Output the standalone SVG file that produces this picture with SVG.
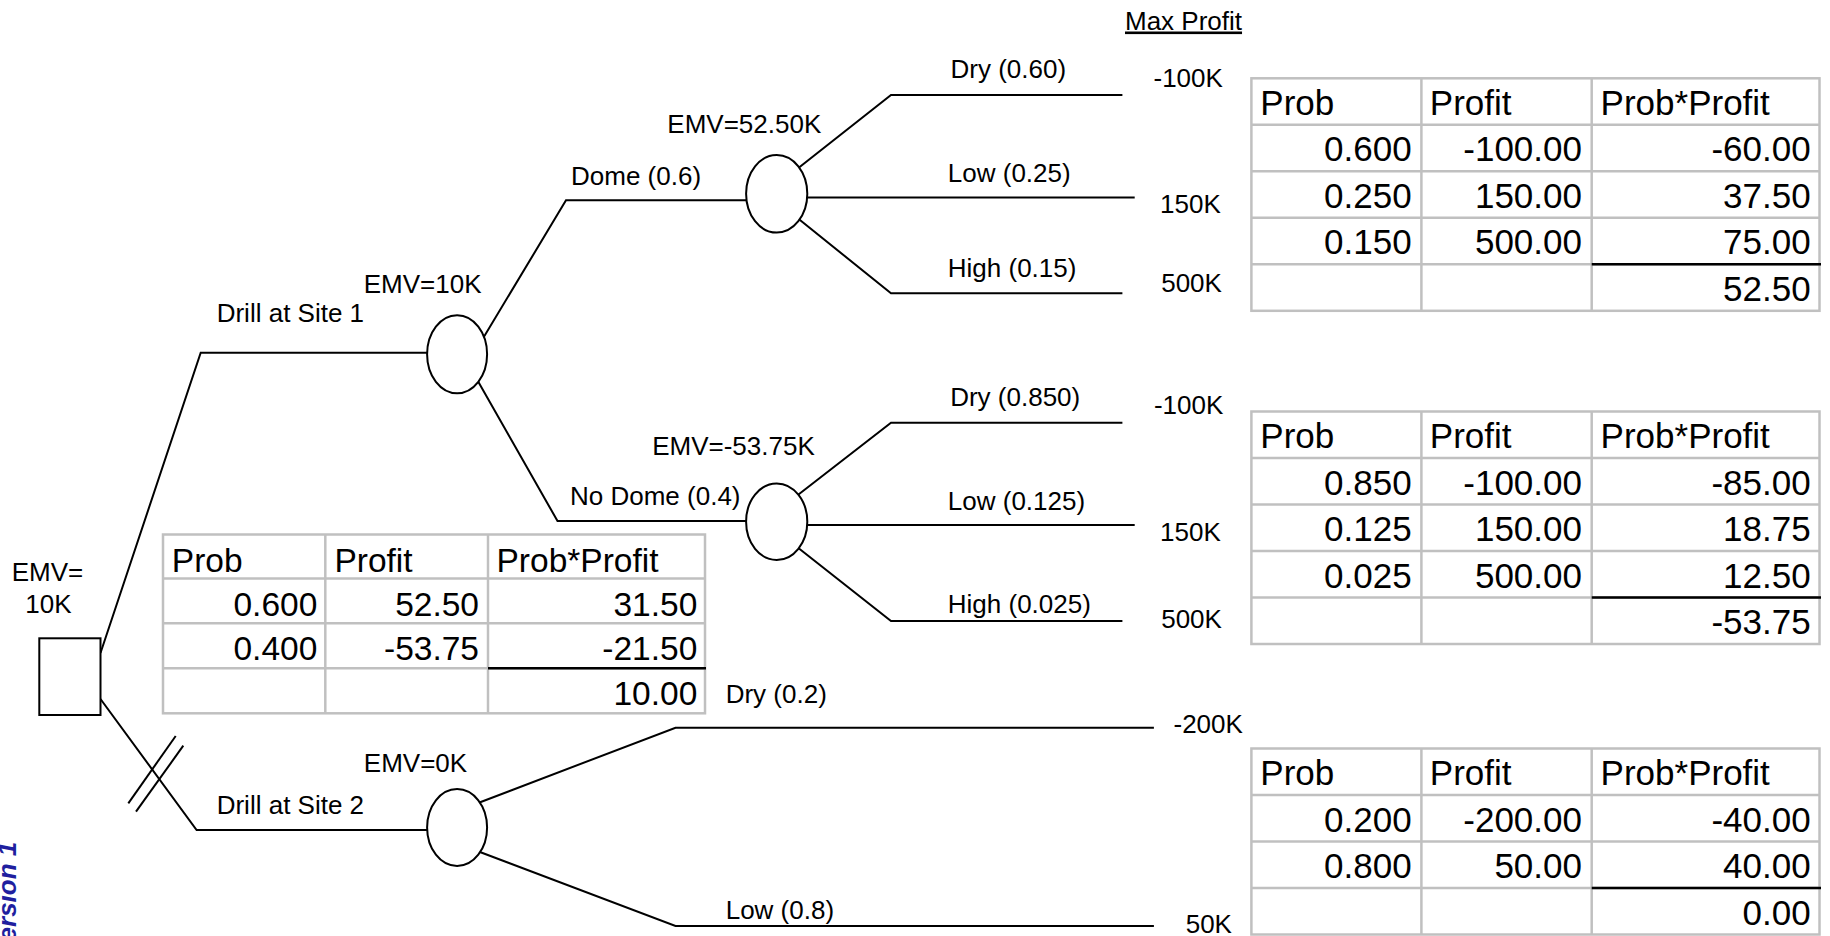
<svg xmlns="http://www.w3.org/2000/svg" width="1830" height="936" viewBox="0 0 1830 936">
  <style>
    .lbl { font-family: "Liberation Sans", Arial, sans-serif; font-size: 26px; fill: #000; }
    .tb { font-family: "Liberation Sans", Arial, sans-serif; font-size: 35px; fill: #000; }
    .tbs { font-family: "Liberation Sans", Arial, sans-serif; font-size: 33.5px; fill: #000; }
    .r { text-anchor: end; }
    .wire { fill: none; stroke: #000; stroke-width: 2; }
    .node { fill: #fff; stroke: #000; stroke-width: 2; }
    .grid { fill: #fff; stroke: #c0c0c0; stroke-width: 2.5; }
    .gline { stroke: #c0c0c0; stroke-width: 2.5; }
    .sum { stroke: #000; stroke-width: 2.5; }
    .ver { font-family: "Liberation Sans", Arial, sans-serif; font-size: 26px; font-weight: bold; font-style: italic; fill: #1f1f9f; }
  </style>
  <rect width="1830" height="936" fill="#fff"/>

  <!-- branches of the decision tree -->
  <g id="connectors">
    <path class="wire" d="M100.5,653 L200.7,352.7 L440,352.7"/>
    <path class="wire" d="M100.5,699 L196.6,830 L440,830"/>
    <path class="wire" d="M128.3,803.3 L175.7,736"/>
    <path class="wire" d="M136,811.7 L183.3,745.7"/>
    <path class="wire" d="M482,340 L566,200.3 L760,200.3"/>
    <path class="wire" d="M475,376 L557.5,521 L760,521"/>
    <path class="wire" d="M789.5,175 L891,95 L1122.4,95"/>
    <path class="wire" d="M790,197.5 L1134.7,197.5"/>
    <path class="wire" d="M790,212 L891,293.3 L1122.4,293.3"/>
    <path class="wire" d="M791.4,500 L891,422.7 L1122.4,422.7"/>
    <path class="wire" d="M790,525 L1134.7,525"/>
    <path class="wire" d="M792,543 L891,621 L1122.4,621"/>
    <path class="wire" d="M465,808 L675.5,727.7 L1153.9,727.7"/>
    <path class="wire" d="M464,846 L675.5,926 L1153.9,926"/>
  </g>

  <!-- decision node -->
  <g id="decision">
    <rect class="node" x="39.3" y="638.3" width="61.2" height="76.7"/>
    <text class="lbl" x="47.4" y="580.7" text-anchor="middle">EMV=</text>
    <text class="lbl" x="48.4" y="612.7" text-anchor="middle">10K</text>
  </g>

  <!-- chance nodes -->
  <g id="chance-site1">
    <ellipse class="node" cx="457.1" cy="354.3" rx="30" ry="39"/>
    <text class="lbl" x="363.7" y="293.3">EMV=10K</text>
  </g>
  <g id="chance-dome">
    <ellipse class="node" cx="776.7" cy="193.8" rx="30.6" ry="38.8"/>
    <text class="lbl" x="667.3" y="133.3">EMV=52.50K</text>
  </g>
  <g id="chance-nodome">
    <ellipse class="node" cx="776.7" cy="521.7" rx="30.6" ry="38.3"/>
    <text class="lbl" x="652.2" y="455">EMV=-53.75K</text>
  </g>
  <g id="chance-site2">
    <ellipse class="node" cx="457.1" cy="827.5" rx="30" ry="38.5"/>
    <text class="lbl" x="363.8" y="772.3">EMV=0K</text>
  </g>

  <!-- branch labels -->
  <g id="branch-labels">
    <text class="lbl" x="216.7" y="321.7">Drill at Site 1</text>
    <text class="lbl" x="216.7" y="814">Drill at Site 2</text>
    <text class="lbl" x="571" y="185">Dome (0.6)</text>
    <text class="lbl" x="570" y="505">No Dome (0.4)</text>
    <text class="lbl" x="950.5" y="78">Dry (0.60)</text>
    <text class="lbl" x="947.8" y="181.7">Low (0.25)</text>
    <text class="lbl" x="947.8" y="276.7">High (0.15)</text>
    <text class="lbl" x="950.2" y="406">Dry (0.850)</text>
    <text class="lbl" x="947.8" y="510">Low (0.125)</text>
    <text class="lbl" x="947.8" y="613.3">High (0.025)</text>
    <text class="lbl" x="725.7" y="703.3">Dry (0.2)</text>
    <text class="lbl" x="725.7" y="919.3">Low (0.8)</text>
  </g>

  <!-- payoffs -->
  <g id="payoffs">
    <text class="lbl" x="1125" y="29.5" text-decoration="underline">Max Profit</text>
    <text class="lbl" x="1153.5" y="86.5">-100K</text>
    <text class="lbl" x="1160" y="213.3">150K</text>
    <text class="lbl" x="1161.2" y="291.7">500K</text>
    <text class="lbl" x="1153.9" y="414.3">-100K</text>
    <text class="lbl" x="1160" y="541">150K</text>
    <text class="lbl" x="1161.2" y="627.7">500K</text>
    <text class="lbl" x="1173.5" y="733.3">-200K</text>
    <text class="lbl" x="1185.7" y="932.5">50K</text>
  </g>

  <!-- EMV table for the site decision -->
  <g id="table-site">
    <rect class="grid" x="163" y="534.5" width="542" height="178.8"/>
    <line class="gline" x1="325.3" y1="534.5" x2="325.3" y2="713.3"/>
    <line class="gline" x1="488" y1="534.5" x2="488" y2="713.3"/>
    <line class="gline" x1="163" y1="578.5" x2="705" y2="578.5"/>
    <line class="gline" x1="163" y1="623.3" x2="705" y2="623.3"/>
    <line class="gline" x1="163" y1="668.3" x2="705" y2="668.3"/>
    <line class="sum" x1="488" y1="668.3" x2="706" y2="668.3"/>
    <text class="tbs" x="171.8" y="571.7">Prob</text>
    <text class="tbs" x="334.4" y="571.7">Profit</text>
    <text class="tbs" x="496.5" y="571.7">Prob*Profit</text>
    <text class="tbs r" x="317.3" y="615.7">0.600</text>
    <text class="tbs r" x="479" y="615.7">52.50</text>
    <text class="tbs r" x="697.3" y="615.7">31.50</text>
    <text class="tbs r" x="317.3" y="660">0.400</text>
    <text class="tbs r" x="479" y="660">-53.75</text>
    <text class="tbs r" x="697.3" y="660">-21.50</text>
    <text class="tbs r" x="697.3" y="705">10.00</text>
  </g>

  <!-- EMV table for the dome outcome -->
  <g id="table-dome">
    <rect class="grid" x="1251.4" y="78.3" width="568.1" height="232.5"/>
    <line class="gline" x1="1421.4" y1="78.3" x2="1421.4" y2="310.8"/>
    <line class="gline" x1="1591.7" y1="78.3" x2="1591.7" y2="310.8"/>
    <line class="gline" x1="1251.4" y1="124.8" x2="1819.5" y2="124.8"/>
    <line class="gline" x1="1251.4" y1="171.3" x2="1819.5" y2="171.3"/>
    <line class="gline" x1="1251.4" y1="217.8" x2="1819.5" y2="217.8"/>
    <line class="gline" x1="1251.4" y1="264.3" x2="1819.5" y2="264.3"/>
    <line class="sum" x1="1591.7" y1="264.3" x2="1821" y2="264.3"/>
    <text class="tb" x="1260.3" y="114.5">Prob</text>
    <text class="tb" x="1429.8" y="114.5">Profit</text>
    <text class="tb" x="1600.6" y="114.5">Prob*Profit</text>
    <text class="tb r" x="1411.7" y="161.3">0.600</text>
    <text class="tb r" x="1582" y="161.3">-100.00</text>
    <text class="tb r" x="1810.7" y="161.3">-60.00</text>
    <text class="tb r" x="1411.7" y="207.8">0.250</text>
    <text class="tb r" x="1582" y="207.8">150.00</text>
    <text class="tb r" x="1810.7" y="207.8">37.50</text>
    <text class="tb r" x="1411.7" y="254.3">0.150</text>
    <text class="tb r" x="1582" y="254.3">500.00</text>
    <text class="tb r" x="1810.7" y="254.3">75.00</text>
    <text class="tb r" x="1810.7" y="300.8">52.50</text>
  </g>

  <!-- EMV table for the no-dome outcome -->
  <g id="table-nodome">
    <rect class="grid" x="1251.4" y="411.5" width="568.1" height="232.5"/>
    <line class="gline" x1="1421.4" y1="411.5" x2="1421.4" y2="644"/>
    <line class="gline" x1="1591.7" y1="411.5" x2="1591.7" y2="644"/>
    <line class="gline" x1="1251.4" y1="458" x2="1819.5" y2="458"/>
    <line class="gline" x1="1251.4" y1="504.5" x2="1819.5" y2="504.5"/>
    <line class="gline" x1="1251.4" y1="551" x2="1819.5" y2="551"/>
    <line class="gline" x1="1251.4" y1="597.5" x2="1819.5" y2="597.5"/>
    <line class="sum" x1="1591.7" y1="597.5" x2="1821" y2="597.5"/>
    <text class="tb" x="1260.3" y="447.7">Prob</text>
    <text class="tb" x="1429.8" y="447.7">Profit</text>
    <text class="tb" x="1600.6" y="447.7">Prob*Profit</text>
    <text class="tb r" x="1411.7" y="494.5">0.850</text>
    <text class="tb r" x="1582" y="494.5">-100.00</text>
    <text class="tb r" x="1810.7" y="494.5">-85.00</text>
    <text class="tb r" x="1411.7" y="541">0.125</text>
    <text class="tb r" x="1582" y="541">150.00</text>
    <text class="tb r" x="1810.7" y="541">18.75</text>
    <text class="tb r" x="1411.7" y="587.5">0.025</text>
    <text class="tb r" x="1582" y="587.5">500.00</text>
    <text class="tb r" x="1810.7" y="587.5">12.50</text>
    <text class="tb r" x="1810.7" y="634">-53.75</text>
  </g>

  <!-- EMV table for site 2 -->
  <g id="table-site2">
    <rect class="grid" x="1251.4" y="748.5" width="568.1" height="186"/>
    <line class="gline" x1="1421.4" y1="748.5" x2="1421.4" y2="934.5"/>
    <line class="gline" x1="1591.7" y1="748.5" x2="1591.7" y2="934.5"/>
    <line class="gline" x1="1251.4" y1="795" x2="1819.5" y2="795"/>
    <line class="gline" x1="1251.4" y1="841.5" x2="1819.5" y2="841.5"/>
    <line class="gline" x1="1251.4" y1="888" x2="1819.5" y2="888"/>
    <line class="sum" x1="1591.7" y1="888" x2="1821" y2="888"/>
    <text class="tb" x="1260.3" y="784.7">Prob</text>
    <text class="tb" x="1429.8" y="784.7">Profit</text>
    <text class="tb" x="1600.6" y="784.7">Prob*Profit</text>
    <text class="tb r" x="1411.7" y="831.5">0.200</text>
    <text class="tb r" x="1582" y="831.5">-200.00</text>
    <text class="tb r" x="1810.7" y="831.5">-40.00</text>
    <text class="tb r" x="1411.7" y="878">0.800</text>
    <text class="tb r" x="1582" y="878">50.00</text>
    <text class="tb r" x="1810.7" y="878">40.00</text>
    <text class="tb r" x="1810.7" y="924.5">0.00</text>
  </g>

  <!-- version tag along the left edge -->
  <text class="ver" text-anchor="end" transform="translate(15.5,841.7) rotate(-90)">Version 1</text>
</svg>
